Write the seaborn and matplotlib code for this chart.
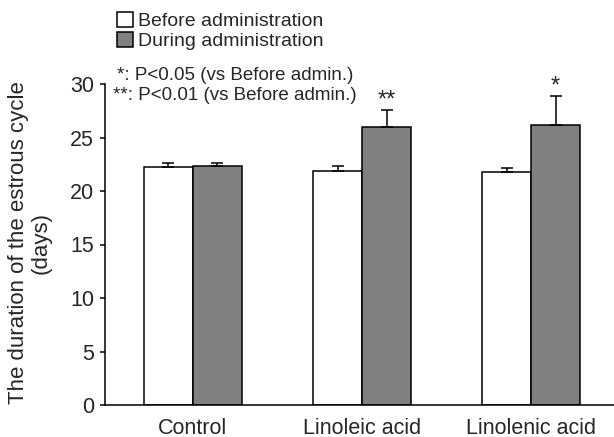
import matplotlib
matplotlib.use("Agg")
import matplotlib.pyplot as plt
import seaborn as sns
import pandas as pd
import numpy as np

groups = ["Control", "Linoleic acid", "Linolenic acid"]
periods = ["Before administration", "During administration"]
before_vals = [22.25, 21.9, 21.75]
during_vals = [22.3, 25.95, 26.15]
before_err = [0.35, 0.4, 0.4]
during_err = [0.35, 1.6, 2.75]
before_sig = ["", "", ""]
during_sig = ["", "**", "*"]
yticks = [0, 5, 10, 15, 20, 25, 30]

sns.set_theme(style="ticks")
plt.rcParams['font.family'] = ['Liberation Sans', 'DejaVu Sans']

df = pd.DataFrame({
    "group": groups * 2,
    "period": [periods[0]] * 3 + [periods[1]] * 3,
    "value": before_vals + during_vals,
})

fig = plt.figure(figsize=(6.14, 4.37), dpi=100)
ax = fig.add_axes([105/614, 1 - 405/437, 1 - 105/614, (405 - 84)/437])

sns.barplot(data=df, x="group", y="value", hue="period", hue_order=periods,
            order=groups, palette=["white", "#808080"], edgecolor="black",
            linewidth=1.1, width=0.58, gap=0, errorbar=None, legend=True,
            saturation=1, ax=ax)

errs = [before_err, during_err]
sigs = [before_sig, during_sig]
vals = [before_vals, during_vals]
bar_containers = list(ax.containers)[:2]
for ci, cont in enumerate(bar_containers):
    xs = [b.get_x() + b.get_width() / 2 for b in cont]
    e = errs[ci]
    ax.errorbar(xs, vals[ci], yerr=[np.zeros(len(e)), e], fmt="none",
                ecolor="black", elinewidth=1.1, capsize=4, capthick=1.1, zorder=1)
    for x, v, er, s in zip(xs, vals[ci], e, sigs[ci]):
        if s:
            ax.annotate(s, (x, v + er), xytext=(0, -1), textcoords="offset points",
                        ha="center", va="bottom", fontsize=17)

ax.set_ylim(0, 30)
ax.set_xlim(-0.52, 2.49)
ax.set_yticks(yticks)
ax.set_xlabel("")
ax.set_ylabel("The duration of the estrous cycle\n(days)", fontsize=16, linespacing=1.1)
ax.yaxis.set_label_coords(-0.104, 0.506)
ax.tick_params(axis="y", length=3.6, width=1.1, labelsize=15.5, pad=4.3, color="black")
ax.tick_params(axis="x", length=0, labelsize=15.5, pad=9)
for sp in ["top", "right"]:
    ax.spines[sp].set_visible(False)
for sp in ["left", "bottom"]:
    ax.spines[sp].set_linewidth(1.1)
    ax.spines[sp].set_color("black")
ax.set_facecolor("white")

handles, labels = ax.get_legend_handles_labels()
ax.legend(handles, labels, loc="upper left", bbox_to_anchor=(117/614, 1 - 12/437),
          bbox_transform=fig.transFigure, frameon=False, fontsize=14,
          handlelength=0.8, handleheight=0.8, handletextpad=0.3,
          labelspacing=0.1, borderpad=0, borderaxespad=0)

fig.text(117/614, 1 - 75/437, "*: P<0.05 (vs Before admin.)", fontsize=13.5,
         ha="left", va="center")
fig.text(113/614, 1 - 96/437, "**: P<0.01 (vs Before admin.)", fontsize=13.5,
         ha="left", va="center")

fig.savefig("out.png", dpi=100, facecolor="white")
